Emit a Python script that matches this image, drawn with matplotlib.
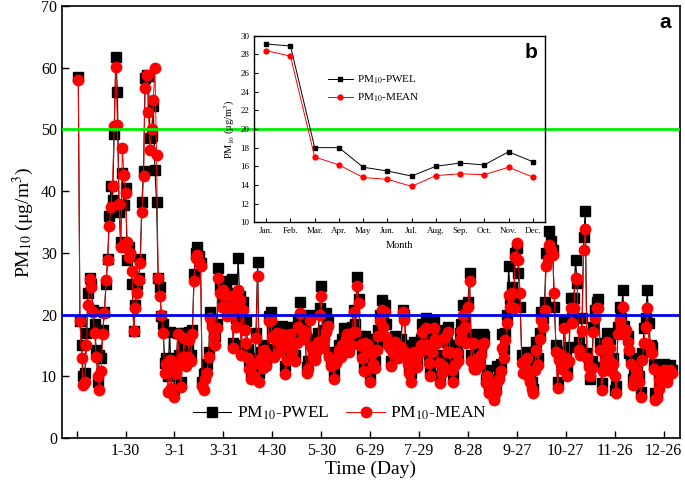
import matplotlib
matplotlib.use("Agg")
import matplotlib.pyplot as plt
import numpy as np

plt.rcParams['font.family'] = ['Liberation Serif', 'DejaVu Serif']
plt.rcParams['mathtext.fontset'] = 'stix'

# daily PM10 (ug/m3), day 1 .. 365
pm10_mean = [
    58.0, 19.0, 13.0, 8.6, 9.0, 15.0, 21.6, 25.7, 24.4, 20.5,
    17.0, 13.2, 10.0, 7.8, 10.8, 16.8, 20.3, 25.6, 28.9, 34.3,
    37.5, 40.8, 50.5, 60.2, 50.8, 38.0, 31.0, 47.0, 42.7, 39.7,
    31.8, 29.4, 30.0, 27.0, 17.3, 21.1, 23.5, 25.6, 28.4, 36.6,
    42.4, 56.7, 58.9, 52.9, 46.7, 50.0, 54.8, 60.0, 45.9, 25.9,
    23.0, 20.0, 17.0, 10.6, 12.0, 7.5, 12.7, 8.1, 11.9, 6.7,
    10.6, 16.8, 12.0, 8.2, 13.2, 16.2, 11.6, 13.2, 15.9, 12.5,
    16.8, 25.4, 29.2, 29.7, 28.5, 27.8, 8.5, 7.8, 9.5, 10.5,
    13.2, 19.5, 18.0, 16.4, 15.0, 17.9, 26.0, 23.5, 21.3, 24.0,
    23.2, 19.7, 21.3, 20.0, 23.0, 14.6, 21.3, 18.0, 24.0, 22.4,
    13.5, 20.8, 17.5, 15.4, 13.0, 11.1, 9.5, 12.0, 10.0, 16.2,
    26.2, 9.1, 13.0, 11.4, 14.3, 11.6, 13.5, 18.9, 19.2, 16.4,
    13.2, 15.9, 17.0, 14.0, 15.5, 16.8, 14.8, 10.3, 12.7, 15.4,
    16.8, 14.0, 15.1, 12.4, 15.4, 18.0, 20.3, 17.5, 16.0, 17.1,
    10.6, 11.1, 19.2, 14.8, 13.5, 12.7, 14.0, 15.6, 20.0, 23.0,
    14.6, 16.0, 17.1, 18.1, 13.2, 11.6, 12.5, 9.5, 12.2, 13.0,
    14.3, 13.2, 15.0, 14.8, 16.0, 16.8, 14.0, 15.1, 17.0, 20.5,
    17.1, 24.6, 21.9, 15.1, 13.0, 10.8, 15.4, 14.0, 15.1, 9.1,
    13.8, 12.0, 11.4, 14.3, 16.5, 18.9, 20.8, 18.0, 20.5, 16.4,
    15.0, 14.6, 11.6, 13.8, 15.5, 14.8, 13.0, 14.6, 14.8, 20.5,
    19.2, 13.8, 12.0, 10.6, 9.1, 13.0, 14.0, 12.7, 11.5, 13.8,
    15.0, 17.1, 14.5, 17.9, 15.0, 12.2, 10.0, 14.0, 17.9, 16.0,
    15.4, 12.2, 8.9, 10.5, 11.6, 16.4, 14.0, 17.1, 14.0, 11.0,
    9.1, 11.9, 13.8, 12.5, 15.9, 17.3, 20.0, 18.0, 15.4, 21.3,
    25.4, 12.4, 15.4, 11.1, 11.1, 13.0, 11.9, 13.5, 15.1, 15.4,
    8.9, 10.0, 7.3, 8.6, 8.0, 6.2, 7.5, 9.1, 9.5, 10.8,
    14.6, 13.0, 15.9, 18.6, 23.2, 21.3, 23.5, 21.1, 29.4, 31.6,
    28.9, 23.5, 12.2, 10.6, 11.5, 13.0, 10.0, 9.1, 8.0, 7.3,
    11.0, 14.3, 11.9, 16.0, 19.2, 18.0, 20.8, 27.8, 29.0, 31.3,
    30.5, 29.7, 23.5, 14.0, 8.1, 12.7, 13.5, 11.1, 17.9, 13.0,
    10.0, 12.4, 21.1, 18.6, 21.1, 26.0, 25.7, 14.3, 13.5, 17.3,
    30.5, 33.8, 13.0, 11.5, 10.0, 11.4, 17.1, 19.5, 21.1, 21.1,
    14.3, 7.8, 10.8, 12.5, 15.6, 13.0, 14.6, 10.8, 12.0, 10.0,
    7.3, 16.8, 19.2, 18.0, 21.3, 16.8, 17.5, 15.6, 14.3, 12.0,
    8.6, 9.5, 11.0, 10.3, 9.0, 6.7, 12.7, 15.4, 18.0, 21.1,
    15.1, 14.0, 13.8, 11.1, 6.2, 6.5, 8.0, 9.5, 10.6, 11.0,
    10.3, 9.0, 10.3, 11.0, 10.5,
]

pm10_pwel = [
    58.5, 19.0, 15.1, 10.0, 10.6, 17.0, 23.5, 25.9, 25.0, 20.8,
    18.5, 14.3, 9.0, 13.5, 13.0, 17.5, 20.5, 24.9, 29.0, 36.0,
    40.8, 38.5, 49.2, 61.8, 56.0, 36.7, 31.8, 43.0, 37.8, 40.5,
    28.9, 31.0, 29.5, 24.9, 17.3, 21.6, 25.0, 26.0, 29.0, 38.3,
    43.2, 58.4, 58.9, 58.6, 48.7, 49.0, 53.8, 43.5, 38.3, 25.9,
    24.4, 19.7, 18.4, 12.2, 13.0, 10.0, 17.1, 10.6, 13.0, 8.0,
    11.5, 17.0, 13.5, 9.0, 15.1, 17.0, 13.0, 14.5, 17.2, 13.5,
    17.5, 26.5, 30.0, 31.0, 29.5, 28.4, 9.0, 10.3, 10.5, 12.0,
    14.0, 20.5, 19.0, 17.0, 16.5, 18.5, 27.6, 24.5, 22.5, 25.4,
    24.0, 20.5, 23.5, 21.0, 25.7, 15.4, 22.0, 19.5, 29.2, 23.0,
    15.0, 22.0, 19.0, 18.9, 14.5, 12.5, 10.5, 13.0, 11.0, 17.0,
    28.6, 10.5, 14.0, 12.5, 15.0, 12.5, 14.5, 19.8, 20.5, 17.5,
    14.0, 17.0, 18.0, 15.0, 16.5, 18.1, 16.0, 11.7, 13.5, 16.5,
    18.0, 15.0, 16.0, 13.5, 16.5, 19.0, 22.1, 19.0, 17.0, 18.0,
    11.5, 12.5, 20.0, 16.0, 14.5, 13.5, 15.5, 17.0, 21.0, 24.6,
    15.5, 17.5, 20.3, 19.0, 14.0, 12.5, 13.5, 10.5, 13.5, 14.0,
    15.0, 14.5, 16.0, 17.9, 17.0, 17.5, 15.0, 16.0, 18.0, 20.8,
    18.5, 26.1, 22.5, 16.5, 14.0, 11.5, 16.5, 15.0, 16.0, 10.0,
    14.5, 13.0, 12.5, 15.0, 17.5, 20.0, 22.4, 19.0, 21.5, 18.4,
    16.0, 15.5, 12.5, 15.0, 16.5, 16.0, 14.0, 15.5, 16.0, 20.8,
    20.0, 15.0, 13.0, 11.5, 10.5, 14.0, 15.5, 14.0, 12.5, 15.0,
    16.0, 18.5, 15.5, 19.5, 16.0, 13.5, 11.0, 15.0, 19.2, 17.0,
    16.5, 13.5, 10.0, 11.5, 12.5, 17.5, 15.5, 18.0, 15.0, 12.0,
    10.0, 13.0, 15.0, 13.5, 17.0, 18.5, 21.5, 19.0, 16.5, 22.0,
    26.8, 13.5, 16.8, 12.0, 12.5, 14.0, 13.0, 14.5, 16.8, 16.5,
    9.5, 11.0, 8.0, 9.5, 9.0, 7.0, 8.5, 11.6, 10.5, 12.0,
    16.8, 14.5, 17.0, 20.0, 27.8, 22.5, 24.5, 22.0, 30.0, 30.8,
    26.8, 21.3, 13.5, 12.5, 12.5, 14.0, 11.0, 10.0, 9.0, 8.0,
    12.0, 15.6, 13.0, 17.0, 20.5, 19.5, 22.0, 30.0, 30.0, 33.5,
    32.0, 30.5, 21.3, 15.0, 9.0, 13.5, 12.5, 12.0, 19.0, 14.0,
    11.0, 14.8, 22.7, 19.5, 22.7, 28.9, 25.2, 15.5, 14.5, 19.5,
    32.6, 36.8, 13.8, 12.5, 9.5, 12.5, 18.0, 20.8, 22.0, 22.5,
    15.4, 8.9, 11.5, 13.5, 17.0, 14.0, 16.0, 12.4, 13.0, 7.8,
    8.5, 18.0, 21.3, 19.5, 24.0, 18.1, 16.8, 16.5, 13.8, 13.0,
    9.5, 11.1, 12.0, 11.5, 10.0, 7.5, 13.8, 17.8, 19.5, 24.0,
    18.6, 15.0, 14.8, 12.0, 7.3, 7.0, 9.0, 10.5, 11.6, 12.0,
    11.6, 10.0, 11.0, 11.8, 11.0,
]

tick_days = [0, 30, 60, 90, 120, 150, 180, 210, 240, 270, 300, 330, 360]
tick_labels = ['', '1-30', '3-1', '3-31', '4-30', '5-30', '6-29', '7-29',
               '8-28', '9-27', '10-27', '11-26', '12-26']

# monthly means for the inset
months = ['Jan.', 'Feb.', 'Mar.', 'Apr.', 'May', 'Jun.', 'Jul.', 'Aug.',
          'Sep.', 'Oct.', 'Nov.', 'Dec.']
month_pwel = [29.1, 28.9, 18.0, 18.0, 15.9, 15.5, 14.95, 16.0, 16.35, 16.15, 17.55, 16.5]
month_mean = [28.4, 27.8, 17.0, 16.15, 14.8, 14.6, 13.85, 15.0, 15.2, 15.1, 15.9, 14.85]

days = np.arange(1, len(pm10_mean) + 1)

fig = plt.figure(figsize=(6.85, 4.88), dpi=100)
ax = fig.add_axes([0.0905, 0.1025, 0.902, 0.885])

ax.plot(days, pm10_pwel, '-', color='black', lw=0.8, marker='s', ms=7,
        label=r'PM$_{10}$-PWEL', zorder=2)
ax.plot(days, pm10_mean, '-', color='red', lw=0.7, marker='o', ms=7.5,
        label=r'PM$_{10}$-MEAN', zorder=3)
ax.axhline(50, color='#00ee00', lw=2, zorder=4)
ax.axhline(20, color='#0000ee', lw=2, zorder=4)

ax.set_xlim(-9, 370)
ax.set_ylim(0, 70)
ax.set_xticks(tick_days)
ax.set_xticklabels(tick_labels)
ax.set_yticks(np.arange(0, 71, 10))
ax.tick_params(direction='in', labelsize=11.5, length=5, width=1)
for s in ax.spines.values():
    s.set_linewidth(1.2)
ax.set_xlabel('Time (Day)', fontsize=14, labelpad=1)
ax.set_ylabel('PM$_{10}$ (\u03bcg/m$^3$)', fontsize=14, labelpad=4)
ax.text(0.985, 0.985, 'a', transform=ax.transAxes, ha='right', va='top',
        fontsize=15, fontweight='bold', family='Liberation Sans')
ax.legend(loc='lower center', bbox_to_anchor=(0.45, 0.0), ncol=2, frameon=False,
          fontsize=12.5, handlelength=2.2, columnspacing=1.0, handletextpad=0.3)

# inset: monthly averages
axi = fig.add_axes([0.371, 0.5445, 0.4244, 0.3824])
axi.patch.set_alpha(0)
m = np.arange(1, 13)
axi.plot(m, month_pwel, '-', color='black', lw=0.7, marker='s', ms=3.5,
         label=r'PM$_{10}$-PWEL')
axi.plot(m, month_mean, '-', color='red', lw=0.7, marker='o', ms=3.5,
         label=r'PM$_{10}$-MEAN')
axi.set_xlim(0.5, 12.5)
axi.set_ylim(10, 30)
axi.set_xticks(m)
axi.set_xticklabels(months)
axi.set_yticks(np.arange(10, 31, 2))
axi.tick_params(direction='in', labelsize=6.5, length=3, width=0.8)
for s in axi.spines.values():
    s.set_linewidth(1.0)
axi.set_xlabel('Month', fontsize=7.5, labelpad=4)
axi.set_ylabel('PM$_{10}$ (\u03bcg/m$^3$)', fontsize=7.5, labelpad=2)
axi.text(0.975, 0.96, 'b', transform=axi.transAxes, ha='right', va='top',
         fontsize=15, fontweight='bold', family='Liberation Sans')
axi.legend(loc='upper left', bbox_to_anchor=(0.22, 0.85), frameon=False,
           fontsize=8, handlelength=2.2, handletextpad=0.4, labelspacing=0.5)

fig.savefig('out.png', dpi=100)
